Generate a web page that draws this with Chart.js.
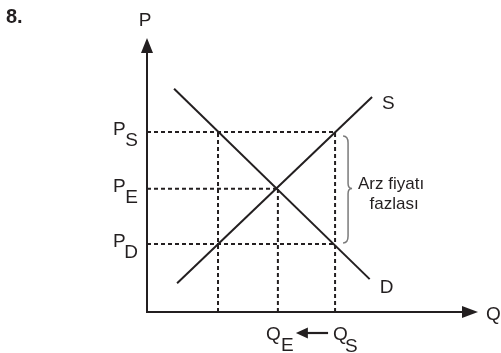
<!DOCTYPE html>
<html>
<head>
<meta charset="utf-8">
<script src="https://cdn.jsdelivr.net/npm/chart.js@4"></script>
<style>
html,body{margin:0;padding:0;background:#fff;}
canvas{display:block;}
</style>
</head>
<body>
<canvas id="c" width="501" height="353"></canvas>
<script>
// ---- data ----
const quantityLevels = [2.36, 4.35, 6.25];   // Q_D (unlabelled), Q_E, Q_S
const priceLevels = [2.48, 4.5, 6.57];       // P_D, P_E, P_S
const supplyQ = [1.0, 7.48];
const supplyP = [1.05, 7.85];
const demandQ = [0.9, 7.4];
const demandP = [8.15, 1.2];
const priceLabels = [["P", "D"], ["P", "E"], ["P", "S"]];
const quantityLabels = [["Q", "E"], ["Q", "S"]];
const curveLabels = ["S", "D"];
const axisLabels = ["P", "Q"];
const braceText = ["Arz fiyatı", "fazlası"];
const questionNumber = "8.";

const [qD, qE, qS] = quantityLevels;
const [pD, pE, pS] = priceLevels;

const INK = "#231f20";
const FONT = '"Liberation Sans", Arial, sans-serif';

function seg(x1, y1, x2, y2) { return [{x: x1, y: y1}, {x: x2, y: y2}]; }
const dashedSegments = [
  seg(0, pS, qS, pS),
  seg(0, pE, qE, pE),
  seg(0, pD, qS, pD),
  seg(qD, 0, qD, pS),
  seg(qE, 0, qE, pE),
  seg(qS, 0, qS, pS)
];

const datasets = [
  {data: seg(supplyQ[0], supplyP[0], supplyQ[1], supplyP[1]), borderColor: INK, borderWidth: 2, order: 0},
  {data: seg(demandQ[0], demandP[0], demandQ[1], demandP[1]), borderColor: INK, borderWidth: 2, order: 0}
].concat(dashedSegments.map(d => ({data: d, borderColor: INK, borderWidth: 2, borderDash: [4, 3], order: 1})));
datasets.forEach(d => { d.showLine = true; d.pointRadius = 0; d.clip = false; d.fill = false; });

function arrowHead(ctx, tx, ty, dx, dy, len, half) {
  const bx = tx - dx * len, by = ty - dy * len;
  ctx.beginPath();
  ctx.moveTo(tx, ty);
  ctx.lineTo(bx - dy * half, by + dx * half);
  ctx.lineTo(bx + dy * half, by - dx * half);
  ctx.closePath();
  ctx.fill();
}

const decor = {
  id: "decor",
  beforeDatasetsDraw(chart) {
    const {ctx, chartArea: a} = chart;
    const xs = chart.scales.x, ys = chart.scales.y;
    const ox = xs.getPixelForValue(0), oy = ys.getPixelForValue(0);
    ctx.save();
    ctx.strokeStyle = INK; ctx.fillStyle = INK; ctx.lineWidth = 2;
    ctx.beginPath();
    ctx.moveTo(ox, a.top + 12);
    ctx.lineTo(ox, oy);
    ctx.lineTo(a.right - 12, oy);
    ctx.stroke();
    arrowHead(ctx, ox, a.top, 0, -1, 15, 6);
    arrowHead(ctx, a.right, oy, 1, 0, 16, 6);
    ctx.restore();
  },
  afterDatasetsDraw(chart) {
    const {ctx, chartArea: a} = chart;
    const xs = chart.scales.x, ys = chart.scales.y;
    const ox = xs.getPixelForValue(0), oy = ys.getPixelForValue(0);
    ctx.save();
    ctx.fillStyle = INK;
    ctx.textBaseline = "alphabetic";
    ctx.font = "bold 20px " + FONT;
    ctx.textAlign = "left";
    ctx.fillText(questionNumber, 6, 23);
    ctx.font = "19px " + FONT;
    ctx.textAlign = "center";
    ctx.fillText(axisLabels[0], ox - 2, 26);
    ctx.textAlign = "left";
    ctx.fillText(axisLabels[1], a.right + 8, oy + 8);
    priceLevels.forEach((p, i) => {
      const py = ys.getPixelForValue(p);
      ctx.textAlign = "left";
      ctx.fillText(priceLabels[i][0], ox - 34, py + 3);
      ctx.textAlign = "right";
      ctx.fillText(priceLabels[i][1], ox - 9, py + 14);
    });
    const qEx = xs.getPixelForValue(qE), qSx = xs.getPixelForValue(qS);
    ctx.textAlign = "left";
    ctx.fillText(quantityLabels[0][0], qEx - 12, oy + 28);
    ctx.fillText(quantityLabels[0][1], qEx + 3, oy + 39);
    ctx.fillText(quantityLabels[1][0], qSx - 2, oy + 28);
    ctx.fillText(quantityLabels[1][1], qSx + 10, oy + 40);
    // arrow Q_S -> Q_E
    ctx.strokeStyle = INK; ctx.lineWidth = 2.2;
    const ay = oy + 21;
    ctx.beginPath();
    ctx.moveTo(qSx - 7, ay);
    ctx.lineTo(qEx + 28, ay);
    ctx.stroke();
    arrowHead(ctx, qEx + 18, ay, -1, 0, 12, 5.5);
    ctx.fillText(curveLabels[0], xs.getPixelForValue(supplyQ[1]) + 10, ys.getPixelForValue(supplyP[1]) + 12);
    ctx.fillText(curveLabels[1], xs.getPixelForValue(demandQ[1]) + 10, ys.getPixelForValue(demandP[1]) + 14);
    // brace
    const bx = qSx + 8, top = ys.getPixelForValue(pS) + 4, bot = ys.getPixelForValue(pD) - 1;
    const mid = (top + bot) / 2 - 1;
    ctx.strokeStyle = "#7a7a7a"; ctx.lineWidth = 1.5;
    ctx.beginPath();
    ctx.moveTo(bx, top);
    ctx.quadraticCurveTo(bx + 5, top, bx + 5, top + 7);
    ctx.lineTo(bx + 5, mid - 5);
    ctx.quadraticCurveTo(bx + 5, mid, bx + 9, mid);
    ctx.quadraticCurveTo(bx + 5, mid, bx + 5, mid + 5);
    ctx.lineTo(bx + 5, bot - 7);
    ctx.quadraticCurveTo(bx + 5, bot, bx, bot);
    ctx.stroke();
    ctx.fillStyle = INK;
    ctx.font = "17px " + FONT;
    ctx.textAlign = "center";
    ctx.fillText(braceText[0], bx + 48, ys.getPixelForValue(pE) + 0);
    ctx.fillText(braceText[1], bx + 51, ys.getPixelForValue(pE) + 20);
    ctx.restore();
  }
};

new Chart(document.getElementById("c"), {
  type: "scatter",
  data: {datasets},
  options: {
    responsive: false,
    animation: false,
    devicePixelRatio: 1,
    layout: {padding: {left: 147, right: 23, top: 38, bottom: 41}},
    plugins: {legend: {display: false}, tooltip: {enabled: false}},
    scales: {
      x: {type: "linear", min: 0, max: 11, display: false},
      y: {type: "linear", min: 0, max: 10, display: false}
    }
  },
  plugins: [decor]
});
</script>
</body>
</html>
